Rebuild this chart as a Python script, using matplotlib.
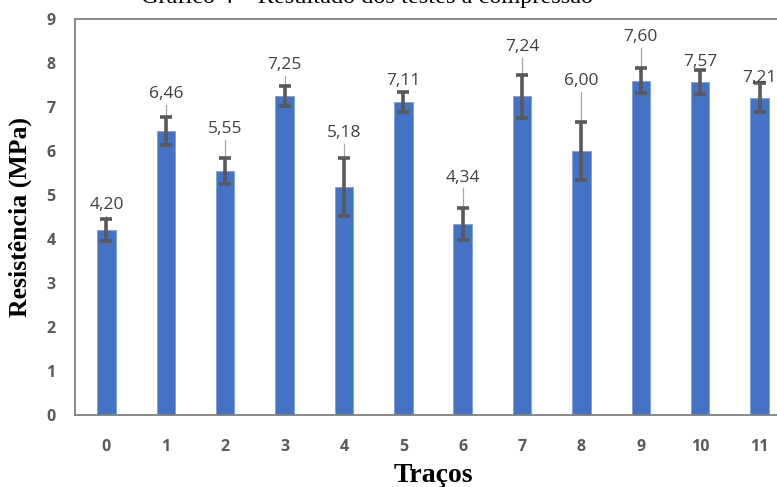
import matplotlib
matplotlib.use("Agg")
import matplotlib.pyplot as plt
import numpy as np

# ---- data ----
tracos = ["0", "1", "2", "3", "4", "5", "6", "7", "8", "9", "10", "11"]
resistencia = [4.20, 6.46, 5.55, 7.25, 5.18, 7.11, 4.34, 7.24, 6.00, 7.60, 7.57, 7.21]
desvio = [0.25, 0.32, 0.30, 0.22, 0.65, 0.23, 0.36, 0.48, 0.65, 0.29, 0.27, 0.33]
y_ticks = [0, 1, 2, 3, 4, 5, 6, 7, 8, 9]

# ---- layout (label placement in data units) ----
label_y = [4.77, 7.29, 6.49, 7.95, 6.40, 7.58, 5.39, 8.36, 7.58, 8.59, 8.03, 7.67]

W, H = 777, 487
fig = plt.figure(figsize=(W / 100, H / 100), dpi=100)
left_px, right_px, top_px, bot_px = 75, 791, 19, 415
ax = fig.add_axes([left_px / W, 1 - bot_px / H, (right_px - left_px) / W, (bot_px - top_px) / H])

x = np.arange(len(tracos))
bar_color = "#4472C4"
ax.bar(x, resistencia, width=0.31, color=bar_color, edgecolor="#7da0dc", linewidth=0.6, zorder=2)

# leader lines
for xi, v, e, ly in zip(x, resistencia, desvio, label_y):
    ax.plot([xi, xi], [v, ly - 0.24], color="#a6a6a6", lw=0.9, zorder=3)

ax.errorbar(x, resistencia, yerr=desvio, fmt="none", ecolor="#595959",
            elinewidth=2.6, capsize=4.5, capthick=2.6, zorder=4)

for xi, v, ly in zip(x, resistencia, label_y):
    ax.text(xi, ly, f"{v:.2f}".replace(".", ","), ha="center", va="center",
            fontsize=12.5, color="#404040", family="Open Sans", zorder=5)

ax.set_xlim(-0.53, len(tracos) - 1 + 0.53)
ax.set_ylim(0, 9)
ax.set_yticks(y_ticks)
ax.set_xticks(x)
ax.set_xticklabels(tracos)
ax.tick_params(length=0)
ax.tick_params(axis="y", pad=14)
ax.tick_params(axis="x", pad=17)
for lab in ax.get_xticklabels() + ax.get_yticklabels():
    lab.set_family("Open Sans")
    lab.set_fontweight("bold")
    lab.set_fontsize(11.5)
    lab.set_color("#595959")

for sp in ax.spines.values():
    sp.set_color("#808080")
    sp.set_linewidth(1.3)

ax.set_ylabel("Resistência (MPa)", family="Liberation Serif", fontweight="bold",
              fontsize=18.5, color="black", labelpad=10)
ax.set_xlabel("Traços", family="Liberation Serif", fontweight="bold",
              fontsize=20, color="black", labelpad=6)

fig.text(367 / W, 1 - 3 / H, "Gráfico 4 – Resultado dos testes à compressão",
         ha="center", va="baseline", family="Liberation Serif", fontsize=17.5, color="black")

fig.savefig("out.png", dpi=100)
